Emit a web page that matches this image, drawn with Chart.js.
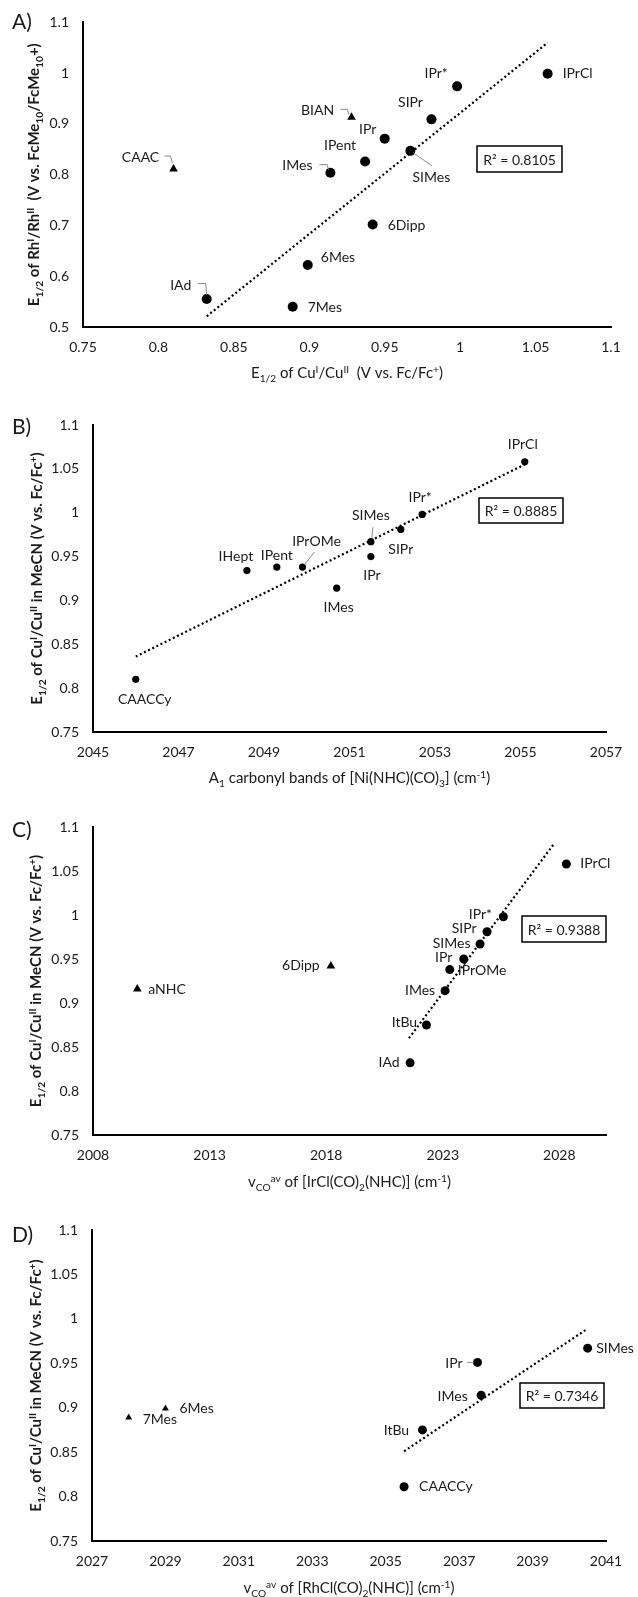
<!DOCTYPE html>
<html>
<head>
<meta charset="utf-8">
<script src="https://cdn.jsdelivr.net/npm/chart.js@4.4.1/dist/chart.umd.min.js"></script>
<style>
  body { margin: 0; background: #fff; width: 638px; height: 1597px; position: relative; overflow: hidden; }
  canvas { position: absolute; left: 0; }
</style>
</head>
<body>
<canvas id="chartA" width="638" height="400" style="top:0px"></canvas>
<canvas id="chartB" width="638" height="400" style="top:400px"></canvas>
<canvas id="chartC" width="638" height="400" style="top:800px"></canvas>
<canvas id="chartD" width="638" height="397" style="top:1200px"></canvas>
<script>
// --- Data ---

// A) E1/2 Rh(I)/Rh(II) vs E1/2 Cu(I)/Cu(II)
const aNames = ["IPrCl", "IPr*", "SIPr", "IPr", "SIMes", "IPent", "IMes", "6Dipp", "6Mes", "IAd", "7Mes"];
const aX = [1.058, 0.998, 0.981, 0.950, 0.967, 0.937, 0.914, 0.942, 0.899, 0.832, 0.889];
const aY = [0.999, 0.974, 0.909, 0.871, 0.847, 0.826, 0.804, 0.702, 0.622, 0.555, 0.540];
const aTriNames = ["BIAN", "CAAC"];
const aTriX = [0.928, 0.810];
const aTriY = [0.913, 0.811];
const aTrendX = [0.832, 1.058];
const aTrendY = [0.521, 1.060];
const aXTicks = [0.75, 0.8, 0.85, 0.9, 0.95, 1, 1.05, 1.1];
const aYTicks = [0.5, 0.6, 0.7, 0.8, 0.9, 1, 1.1];

// B) E1/2 Cu vs A1 carbonyl bands of [Ni(NHC)(CO)3]
const bNames = ["IPrCl", "IPr*", "SIPr", "SIMes", "IPr", "IPrOMe", "IPent", "IHept", "IMes", "CAACCy"];
const bX = [2055.1, 2052.7, 2052.2, 2051.5, 2051.5, 2049.9, 2049.3, 2048.6, 2050.7, 2046.0];
const bY = [1.058, 0.998, 0.981, 0.967, 0.950, 0.938, 0.938, 0.934, 0.914, 0.810];
const bTrendX = [2046.0, 2055.1];
const bTrendY = [0.836, 1.055];
const bXTicks = [2045, 2047, 2049, 2051, 2053, 2055, 2057];
const cuYTicks = [0.75, 0.8, 0.85, 0.9, 0.95, 1, 1.05, 1.1];

// C) E1/2 Cu vs vCO(av) of [IrCl(CO)2(NHC)]
const cNames = ["IPrCl", "IPr*", "SIPr", "SIMes", "IPr", "IPrOMe", "IMes", "ItBu", "IAd"];
const cX = [2028.3, 2025.6, 2024.9, 2024.6, 2023.9, 2023.3, 2023.1, 2022.3, 2021.6];
const cY = [1.058, 0.998, 0.981, 0.967, 0.950, 0.938, 0.914, 0.875, 0.832];
const cTriNames = ["6Dipp", "aNHC"];
const cTriX = [2018.2, 2009.9];
const cTriY = [0.942, 0.916];
const cTrendX = [2021.55, 2027.8];
const cTrendY = [0.860, 1.082];
const cXTicks = [2008, 2013, 2018, 2023, 2028];

// D) E1/2 Cu vs vCO(av) of [RhCl(CO)2(NHC)]
const dNames = ["SIMes", "IPr", "IMes", "ItBu", "CAACCy"];
const dX = [2040.5, 2037.5, 2037.6, 2036.0, 2035.5];
const dY = [0.967, 0.951, 0.914, 0.875, 0.811];
const dTriNames = ["6Mes", "7Mes"];
const dTriX = [2029.0, 2028.0];
const dTriY = [0.899, 0.889];
const dTrendX = [2035.5, 2040.5];
const dTrendY = [0.851, 0.989];
const dXTicks = [2027, 2029, 2031, 2033, 2035, 2037, 2039, 2041];

// --- Helpers ---

const FONT = "Lato";
const TEXT = "#1a1a1a";

function pts(xs, ys) {
  return xs.map((x, i) => ({ x: x, y: ys[i] }));
}

function fmt(v) {
  return String(Number(v.toFixed(2)));
}

// draw text made of runs: [text, "sub" | "sup" | undefined]
function drawRich(ctx, runs, x, y, size, rotate, weight) {
  ctx.save();
  ctx.translate(x, y);
  if (rotate) ctx.rotate(-Math.PI / 2);
  ctx.textAlign = "left";
  ctx.textBaseline = "alphabetic";
  ctx.fillStyle = TEXT;
  const w = weight || "normal";
  const parts = runs.map(([t, k]) => {
    const s = k ? size * 0.68 : size;
    ctx.font = w + " " + s + "px " + FONT;
    return { t, k, s, w: ctx.measureText(t).width };
  });
  const total = parts.reduce((a, p) => a + p.w, 0);
  let cx = -total / 2;
  const base = size * 0.35;
  parts.forEach(p => {
    ctx.font = w + " " + p.s + "px " + FONT;
    const dy = p.k === "sub" ? size * 0.28 : p.k === "sup" ? -size * 0.38 : 0;
    ctx.fillText(p.t, cx, base + dy);
    cx += p.w;
  });
  ctx.restore();
}

function makeChart(id, cfg) {
  const canvas = document.getElementById(id);
  const ctx = canvas.getContext("2d");
  const H = canvas.height;
  const W = canvas.width;
  const area = cfg.area;

  const extras = {
    id: "extras",
    afterDatasetsDraw(chart) {
      const c = chart.ctx;
      const ca = chart.chartArea;
      c.save();

      // leader lines
      c.strokeStyle = "#8a8a8a";
      c.lineWidth = 1;
      [[0, cfg.names], [1, cfg.triNames || []]].forEach(([di, names]) => {
        const meta = chart.getDatasetMeta(di);
        names.forEach((n, i) => {
          const el = meta.data[i];
          const lead = cfg.leaders[n];
          if (!el || !lead) return;
          c.beginPath();
          lead.forEach(([dx, dy], k) => {
            if (k === 0) c.moveTo(el.x + dx, el.y + dy);
            else c.lineTo(el.x + dx, el.y + dy);
          });
          c.stroke();
        });
      });

      // point labels
      c.fillStyle = TEXT;
      c.font = "14px " + FONT;
      c.textBaseline = "middle";
      [[0, cfg.names], [1, cfg.triNames || []]].forEach(([di, names]) => {
        const meta = chart.getDatasetMeta(di);
        names.forEach((n, i) => {
          const el = meta.data[i];
          if (!el) return;
          const [dx, dy, al] = cfg.labels[n] || [0, -15, "center"];
          c.textAlign = al || "center";
          c.fillText(n, el.x + dx, el.y + dy);
        });
      });

      // R squared box
      const b = cfg.rBox;
      c.strokeStyle = "#000";
      c.lineWidth = 1.5;
      c.strokeRect(b[0], b[1], b[2], b[3]);
      c.textAlign = "center";
      c.fillText(cfg.rText, b[0] + b[2] / 2, b[1] + b[3] / 2 + 1);

      // panel letter
      c.font = "21px " + FONT;
      c.textAlign = "left";
      c.fillText(cfg.letter, 12, cfg.letterY);

      // axis titles
      drawRich(c, cfg.xTitle, (ca.left + ca.right) / 2, cfg.xTitleY, 15, false);
      drawRich(c, cfg.yTitle, cfg.yTitleX, (ca.top + ca.bottom) / 2, 15, true, "bold");
      c.restore();
    }
  };

  const tickFont = { family: FONT, size: 14 };

  new Chart(ctx, {
    type: "scatter",
    data: {
      datasets: [
        {
          data: pts(cfg.x, cfg.y),
          pointStyle: "circle",
          pointRadius: cfg.dotR,
          backgroundColor: "#000",
          borderColor: "#000",
          borderWidth: 0,
        },
        {
          data: pts(cfg.triX || [], cfg.triY || []),
          pointStyle: "triangle",
          pointRadius: cfg.triR || 4,
          backgroundColor: "#000",
          borderColor: "#000",
          borderWidth: 0,
        },
        {
          data: pts(cfg.trendX, cfg.trendY),
          showLine: true,
          pointRadius: 0,
          borderColor: "#000",
          borderWidth: 2.2,
          borderDash: [2, 2.6],
        },
      ],
    },
    options: {
      responsive: false,
      animation: false,
      events: [],
      layout: { padding: { left: 0, top: area.top, right: W - area.right, bottom: 0 } },
      plugins: { legend: { display: false }, tooltip: { enabled: false } },
      scales: {
        x: {
          type: "linear",
          min: cfg.xMin,
          max: cfg.xMax,
          grid: { display: false, drawTicks: false },
          border: { display: true, color: "#000", width: 2 },
          ticks: { font: tickFont, color: TEXT, padding: 12, callback: v => fmt(v) },
          afterBuildTicks: s => { s.ticks = cfg.xTicks.map(v => ({ value: v })); },
          afterFit: s => { s.height = H - area.bottom; },
        },
        y: {
          type: "linear",
          min: cfg.yMin,
          max: cfg.yMax,
          grid: { display: false, drawTicks: false },
          border: { display: true, color: "#000", width: 2 },
          ticks: { font: tickFont, color: TEXT, padding: 14, callback: v => fmt(v) },
          afterBuildTicks: s => { s.ticks = cfg.yTicks.map(v => ({ value: v })); },
          afterFit: s => { s.width = area.left; },
        },
      },
    },
    plugins: [extras],
  });
}

// --- Titles ---

const cuTitle = [["E"], ["1/2", "sub"], [" of Cu"], ["I", "sup"], ["/Cu"], ["II", "sup"], [" in MeCN (V vs. Fc/Fc"], ["+", "sup"], [")"]];

// --- Execution ---

document.addEventListener("DOMContentLoaded", () => {
  Chart.defaults.font.family = FONT;

  // A
  makeChart("chartA", {
    area: { left: 83, right: 611, top: 18.5, bottom: 327 },
    names: aNames, x: aX, y: aY,
    triNames: aTriNames, triX: aTriX, triY: aTriY,
    trendX: aTrendX, trendY: aTrendY,
    xMin: 0.75, xMax: 1.1, yMin: 0.5, yMax: 1.1,
    xTicks: aXTicks, yTicks: aYTicks,
    dotR: 5, triR: 5,
    labels: {
      "IPrCl": [15, 0, "left"], "IPr*": [-21, -13], "SIPr": [-21, -17], "IPr": [-17, -9],
      "SIMes": [21, 27], "IPent": [-25, -16], "IMes": [-33, -7], "6Dipp": [15, 1, "left"],
      "6Mes": [13, -8, "left"], "IAd": [-26, -14], "7Mes": [15, 1, "left"],
      "BIAN": [-34, -7], "CAAC": [-33, -12],
    },
    leaders: {
      "BIAN": [[-11, -8], [-4, -8], [-3, -3]],
      "IMes": [[-11, -8], [-3, -8], [-2, -3]],
      "CAAC": [[-9, -13], [-3, -13], [-1, -6]],
      "IAd": [[-9, -15.5], [-1, -15.5], [0, -4]],
      "SIMes": [[3, 2], [21.5, 15]],
    },
    rBox: [477, 146, 85, 26], rText: "R² = 0.8105",
    letter: "A)", letterY: 22,
    xTitle: [["E"], ["1/2", "sub"], [" of Cu"], ["I", "sup"], ["/Cu"], ["II", "sup"], ["  (V vs. Fc/Fc"], ["+", "sup"], [")"]],
    xTitleY: 373,
    yTitle: [["E"], ["1/2", "sub"], [" of Rh"], ["I", "sup"], ["/Rh"], ["II", "sup"], ["  (V vs. FcMe"], ["10", "sub"], ["/FcMe"], ["10", "sub"], ["+)"]],
    yTitleX: 34,
  });

  // B
  makeChart("chartB", {
    area: { left: 93, right: 606, top: 25, bottom: 332 },
    names: bNames, x: bX, y: bY,
    trendX: bTrendX, trendY: bTrendY,
    xMin: 2045, xMax: 2057, yMin: 0.75, yMax: 1.1,
    xTicks: bXTicks, yTicks: cuYTicks,
    dotR: 3.6,
    labels: {
      "IPrCl": [-2, -17], "IPr*": [-2, -17], "SIMes": [0, -26], "SIPr": [0, 20],
      "IPr": [1, 19], "IPrOMe": [14, -26], "IPent": [0, -12], "IHept": [-11, -14],
      "IMes": [2, 19], "CAACCy": [9, 20],
    },
    leaders: {
      "SIMes": [[1, -4], [2, -14.5]],
      "IPrOMe": [[2, -2.5], [12, -15]],
    },
    rBox: [479, 98, 84, 25], rText: "R² = 0.8885",
    letter: "B)", letterY: 27,
    xTitle: [["A"], ["1", "sub"], [" carbonyl bands of [Ni(NHC)(CO)"], ["3", "sub"], ["] (cm"], ["-1", "sup"], [")"]],
    xTitleY: 378,
    yTitle: cuTitle,
    yTitleX: 37,
  });

  // C
  makeChart("chartC", {
    area: { left: 93, right: 606, top: 27, bottom: 335 },
    names: cNames, x: cX, y: cY,
    triNames: cTriNames, triX: cTriX, triY: cTriY,
    trendX: cTrendX, trendY: cTrendY,
    xMin: 2008, xMax: 2030, yMin: 0.75, yMax: 1.1,
    xTicks: cXTicks, yTicks: cuYTicks,
    dotR: 4.5, triR: 5,
    labels: {
      "IPrCl": [14, 0, "left"], "IPr*": [-23, -2], "SIPr": [-23, -3], "SIMes": [-28.5, -1],
      "IPr": [-20, -2], "IPrOMe": [8, 1, "left"], "IMes": [-25, 0], "ItBu": [-22, -3],
      "IAd": [-21, 0], "6Dipp": [-30, -1], "aNHC": [11, 1, "left"],
    },
    leaders: {},
    rBox: [522, 116, 84, 26], rText: "R² = 0.9388",
    letter: "C)", letterY: 30,
    xTitle: [["v"], ["CO", "sub"], ["av", "sup"], [" of [IrCl(CO)"], ["2", "sub"], ["(NHC)] (cm"], ["-1", "sup"], [")"]],
    xTitleY: 382,
    yTitle: cuTitle,
    yTitleX: 36,
  });

  // D
  makeChart("chartD", {
    area: { left: 92, right: 606, top: 30, bottom: 341 },
    names: dNames, x: dX, y: dY,
    triNames: dTriNames, triX: dTriX, triY: dTriY,
    trendX: dTrendX, trendY: dTrendY,
    xMin: 2027, xMax: 2041, yMin: 0.75, yMax: 1.1,
    xTicks: dXTicks, yTicks: cuYTicks,
    dotR: 4.5, triR: 4,
    labels: {
      "SIMes": [8.5, 0, "left"], "IPr": [-23.5, 1], "IMes": [-28.5, 1], "ItBu": [-26, 1],
      "CAACCy": [15, 0, "left"], "6Mes": [14, 0, "left"], "7Mes": [14, 2, "left"],
    },
    leaders: {
      "IPr": [[-10.5, 0], [-3.5, 0]],
    },
    rBox: [520, 183, 84, 25], rText: "R² = 0.7346",
    letter: "D)", letterY: 35,
    xTitle: [["v"], ["CO", "sub"], ["av", "sup"], [" of [RhCl(CO)"], ["2", "sub"], ["(NHC)] (cm"], ["-1", "sup"], [")"]],
    xTitleY: 388,
    yTitle: cuTitle,
    yTitleX: 36,
  });
});
</script>
</body>
</html>
